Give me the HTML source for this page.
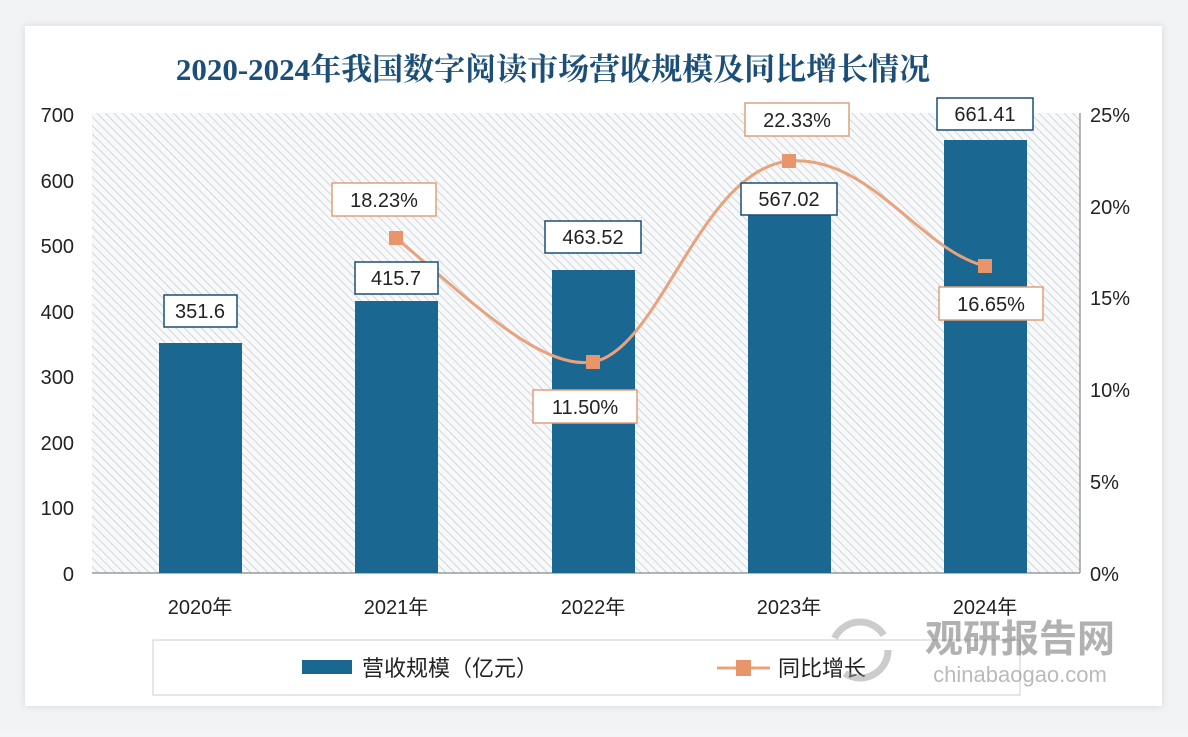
<!DOCTYPE html>
<html><head><meta charset="utf-8"><style>
body{margin:0;background:#f3f4f6;}
text{font-family:"Liberation Sans","Noto Sans CJK SC",sans-serif;}
</style></head><body>
<svg width="1188" height="732" xmlns="http://www.w3.org/2000/svg">
<defs>
<pattern id="h" width="6" height="6" patternUnits="userSpaceOnUse" patternTransform="rotate(-45)">
<rect width="6" height="6" fill="#f8f9fa"/><line x1="0" y1="0" x2="0" y2="6" stroke="#cfd2d6" stroke-width="1.8"/>
</pattern>
<filter id="sh"><feDropShadow dx="0" dy="0" stdDeviation="4" flood-color="#000" flood-opacity="0.12"/></filter>
</defs>
<rect width="1188" height="732" fill="#f2f3f5"/>
<rect x="25" y="26" width="1137" height="680" fill="#fff" filter="url(#sh)"/>
<text x="553" y="80" text-anchor="middle" font-size="31" font-weight="bold" fill="#1b4f78" style="font-family:'Liberation Serif','Noto Serif CJK SC',serif">2020-2024年我国数字阅读市场营收规模及同比增长情况</text>
<rect x="92" y="113" width="988" height="460" fill="url(#h)"/>
<line x1="92" y1="573" x2="1080" y2="573" stroke="#888" stroke-width="1.2"/>
<line x1="1080" y1="113" x2="1080" y2="573" stroke="#888" stroke-width="1.2"/>
<g font-size="20" fill="#222" text-anchor="end">
<text x="74" y="122">700</text><text x="74" y="188">600</text><text x="74" y="253">500</text><text x="74" y="319">400</text><text x="74" y="384">300</text><text x="74" y="450">200</text><text x="74" y="515">100</text><text x="74" y="581">0</text>
</g>
<g font-size="20" fill="#222" text-anchor="start">
<text x="1090" y="122">25%</text><text x="1090" y="214">20%</text><text x="1090" y="305">15%</text><text x="1090" y="397">10%</text><text x="1090" y="489">5%</text><text x="1090" y="581">0%</text>
</g>
<g fill="#1a6791">
<rect x="159" y="343" width="83" height="230"/>
<rect x="355" y="301" width="83" height="272"/>
<rect x="552" y="270" width="83" height="303"/>
<rect x="748" y="202" width="83" height="371"/>
<rect x="944" y="140" width="83" height="433"/>
</g>
<g font-size="20" fill="#222" text-anchor="middle">
<text x="200" y="614">2020年</text><text x="396" y="614">2021年</text><text x="593" y="614">2022年</text><text x="789" y="614">2023年</text><text x="985" y="614">2024年</text>
</g>
<path d="M396,238 C470,300 540,370 593,362 C660,350 700,170 789,161 C870,155 920,250 985,266" fill="none" stroke="#e8a27c" stroke-width="3"/>
<g fill="#e8956c"><rect x="389" y="231" width="14" height="14"/><rect x="586" y="355" width="14" height="14"/><rect x="782" y="154" width="14" height="14"/><rect x="978" y="259" width="14" height="14"/></g>
<g font-size="20" fill="#222" text-anchor="middle">
<rect x="164" y="295" width="73" height="32" fill="#fff" stroke="#1a4f78" stroke-width="1.5"/><text x="200" y="318">351.6</text>
<rect x="355" y="262" width="83" height="32" fill="#fff" stroke="#1a4f78" stroke-width="1.5"/><text x="396" y="285">415.7</text>
<rect x="545" y="221" width="96" height="32" fill="#fff" stroke="#1a4f78" stroke-width="1.5"/><text x="593" y="244">463.52</text>
<rect x="741" y="183" width="96" height="32" fill="#fff" stroke="#1a4f78" stroke-width="1.5"/><text x="789" y="206">567.02</text>
<rect x="937" y="98" width="96" height="32" fill="#fff" stroke="#1a4f78" stroke-width="1.5"/><text x="985" y="121">661.41</text>
<rect x="332" y="183" width="104" height="33" fill="#fff" stroke="#e0a07c" stroke-width="1.5"/><text x="384" y="207">18.23%</text>
<rect x="533" y="390" width="104" height="33" fill="#fff" stroke="#e0a07c" stroke-width="1.5"/><text x="585" y="414">11.50%</text>
<rect x="745" y="103" width="104" height="33" fill="#fff" stroke="#e0a07c" stroke-width="1.5"/><text x="797" y="127">22.33%</text>
<rect x="939" y="287" width="104" height="33" fill="#fff" stroke="#e0a07c" stroke-width="1.5"/><text x="991" y="311">16.65%</text>
</g>
<rect x="153" y="640" width="867" height="55" fill="#fff" stroke="#ccc" stroke-width="1"/>
<rect x="302" y="660" width="50" height="14" fill="#1a6791"/>
<text x="362" y="676" font-size="22" fill="#222">营收规模（亿元）</text>
<line x1="717" y1="668" x2="770" y2="668" stroke="#e8a27c" stroke-width="3"/>
<rect x="736" y="660" width="15" height="16" fill="#e8956c"/>
<text x="778" y="676" font-size="22" fill="#222">同比增长</text>
<g opacity="0.5">
<circle cx="860" cy="650" r="28" fill="none" stroke="#999" stroke-width="7" stroke-dasharray="60 40"/>
<text x="1020" y="652" text-anchor="middle" font-size="38" font-weight="bold" fill="#666">观研报告网</text>
<text x="1020" y="682" text-anchor="middle" font-size="22" fill="#777">chinabaogao.com</text>
</g>
</svg>
</body></html>
